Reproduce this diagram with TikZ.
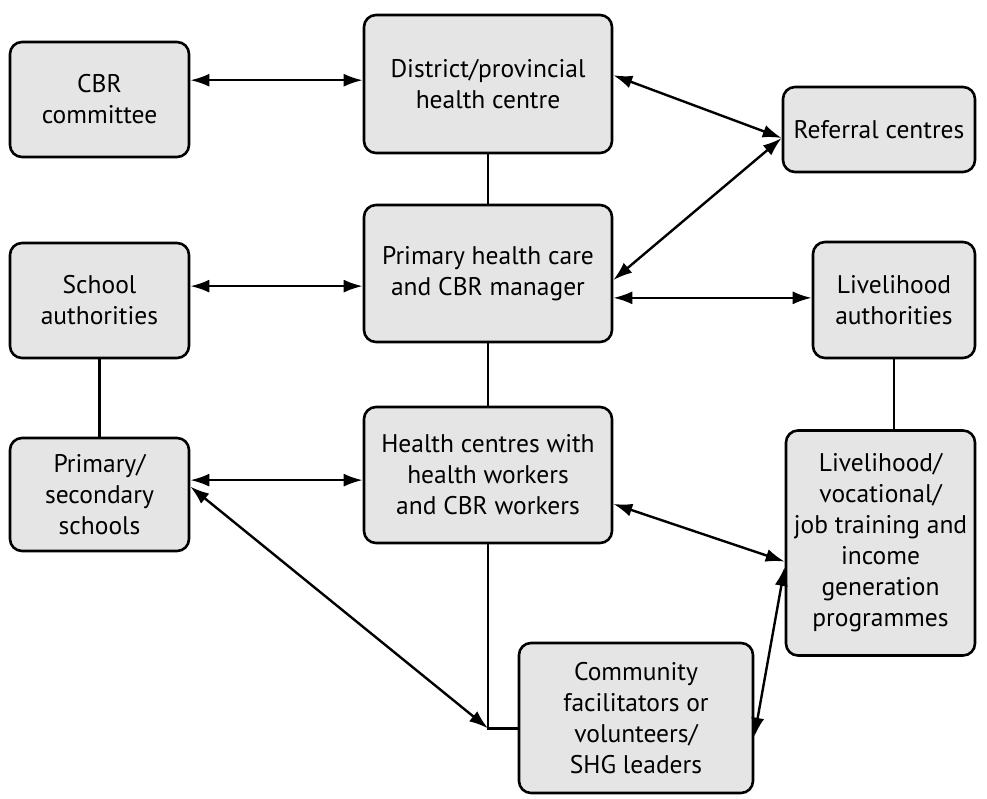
\documentclass[tikz,border=0pt]{standalone}
\usepackage{fontspec}
\setmainfont{PT Sans}
\usetikzlibrary{arrows.meta}
\begin{document}
\begin{tikzpicture}[
        x=1pt, y=-1pt,
        item/.style={draw, line width=2.6pt, rounded corners=12pt, fill=gray!20,
            align=center, inner sep=2pt, font=\fontsize{25.5}{31}\selectfont},
        link/.style={line width=2.4pt},
        both/.style={link, {Latex[length=19pt,width=13pt]}-{Latex[length=19pt,width=13pt]}},
        >=latex
    ]
    \useasboundingbox (0,0) rectangle (987,798);

    % left column
    \node[item, minimum width=179pt, minimum height=115pt] (cbr) at (99.5,99.5) {CBR\\committee};
    \node[item, minimum width=179pt, minimum height=115pt] (sauth) at (99.5,300.5) {School\\authorities};
    \node[item, minimum width=179pt, minimum height=113pt] (schools) at (99.5,494.5) {Primary/\\secondary\\schools};

    % middle column
    \node[item, minimum width=248pt, minimum height=138pt] (district) at (488,84) {District/provincial\\health centre};
    \node[item, minimum width=248pt, minimum height=137pt] (manager) at (488,273.5) {Primary health care\\and CBR manager};
    \node[item, minimum width=248pt, minimum height=136pt] (hc) at (488,475) {Health centres with\\health workers\\and CBR workers};
    \node[item, minimum width=234pt, minimum height=150pt] (comm) at (636,718) {Community\\facilitators or\\volunteers/\\SHG leaders};

    % right column
    \node[item, minimum width=192pt, minimum height=85pt] (referral) at (879,129.5) {Referral centres};
    \node[item, minimum width=162pt, minimum height=116pt] (livauth) at (894,300) {Livelihood\\authorities};
    \node[item, minimum width=189pt, minimum height=225pt] (livprog) at (880.5,543) {Livelihood/\\vocational/\\job training and\\income\\generation\\programmes};

    % plain lines
    \draw[link] (district.south) -- (manager.north);
    \draw[link] (manager.south) -- (hc.north);
    \draw[link] (sauth.south) -- (schools.north);
    \draw[link] (livauth.south) -- (livauth.south |- livprog.north);
    \coordinate (corner) at (hc.south |- comm.185);
    \draw[link] (hc.south) -- (corner) -- (comm.185);

    % two-way arrows
    \draw[both] (cbr.12) -- (cbr.12 -| district.west);
    \draw[both] (sauth.9) -- (sauth.9 -| manager.west);
    \draw[both] (schools.9) -- (schools.9 -| hc.west);
    \draw[both] (schools.5) -- (corner);
    \draw[both] (district.4) -- (referral.185);
    \draw[both] (manager.-3) -- (referral.185);
    \draw[both] (manager.-11) -- (manager.-11 -| livauth.west);
    \draw[both] (hc.-13) -- (livprog.191);
    \draw[both] (comm.-9) -- (livprog.194);
\end{tikzpicture}
\end{document}
